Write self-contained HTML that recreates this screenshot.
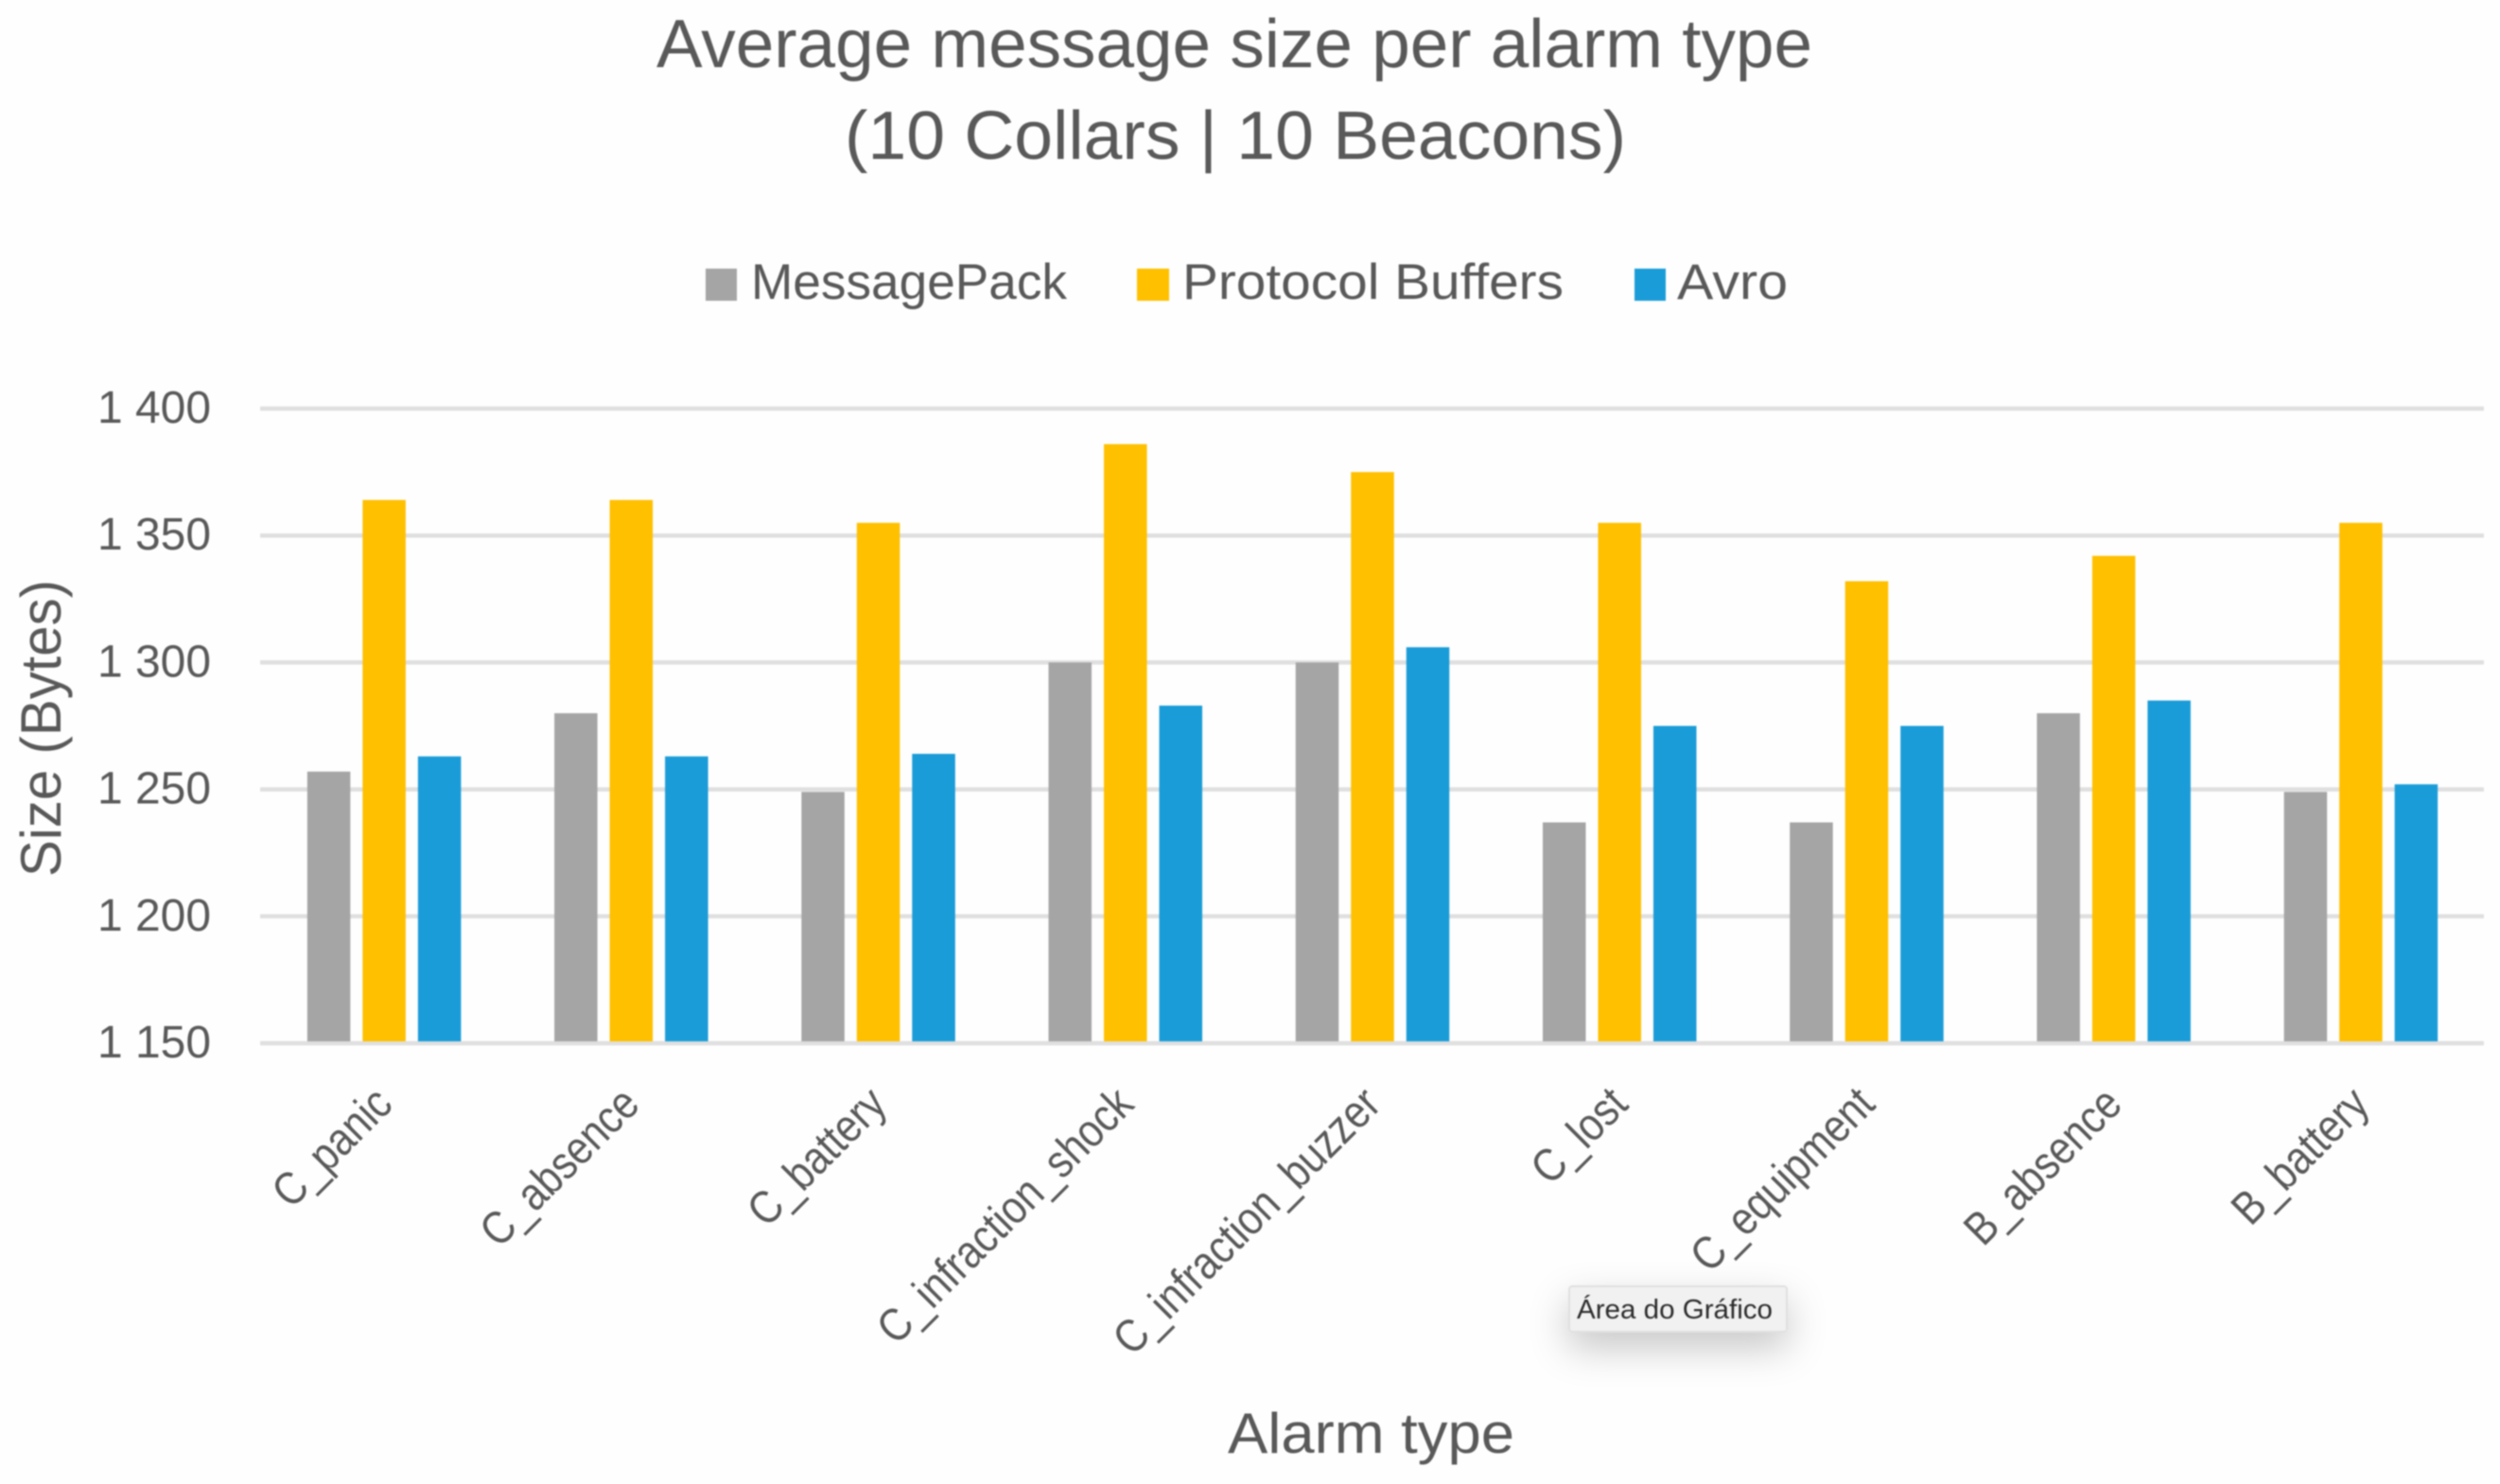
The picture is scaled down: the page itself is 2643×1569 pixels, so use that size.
<!DOCTYPE html>
<html lang="en">
<head>
<meta charset="utf-8">
<title>Average message size per alarm type</title>
<style>
html,body{margin:0;padding:0;background:#fefefe;width:2643px;height:1569px;overflow:hidden}
svg{display:block;font-family:"Liberation Sans",sans-serif;filter:blur(0.9px)}
text{fill:#595959}
</style>
</head>
<body>
<svg id="chart" xmlns="http://www.w3.org/2000/svg" width="2643" height="1569" viewBox="0 0 2643 1569">
  <defs>
    <filter id="tip-shadow" x="-40%" y="-80%" width="180%" height="320%">
      <feDropShadow dx="0" dy="16" stdDeviation="20" flood-color="#000" flood-opacity="0.22"/>
    </filter>
  </defs>
  <rect width="2643" height="1569" fill="#fefefe"/>
  <text x="694" y="71" font-size="72" textLength="1222" lengthAdjust="spacingAndGlyphs">Average message size per alarm type</text>
  <text x="893" y="168" font-size="72" textLength="826" lengthAdjust="spacingAndGlyphs">(10 Collars | 10 Beacons)</text>

  <g id="legend">
    <rect x="746" y="284" width="33" height="34" fill="#a5a5a5"/>
    <text x="794" y="316" font-size="53" textLength="334" lengthAdjust="spacingAndGlyphs">MessagePack</text>
    <rect x="1202" y="284" width="34" height="34" fill="#ffc000"/>
    <text x="1250" y="316" font-size="53" textLength="403" lengthAdjust="spacingAndGlyphs">Protocol Buffers</text>
    <rect x="1728" y="284" width="33" height="34" fill="#1a9cd8"/>
    <text x="1773" y="316" font-size="53" textLength="117" lengthAdjust="spacingAndGlyphs">Avro</text>
  </g>

  <g id="grid"></g>
  <g id="yticks"></g>
  <g id="bars"></g>
  <g id="xticks"></g>

  <text transform="translate(64,770) rotate(-90)" text-anchor="middle" font-size="60" textLength="314" lengthAdjust="spacingAndGlyphs">Size (Bytes)</text>
  <text x="1298" y="1536" font-size="60" textLength="303" lengthAdjust="spacingAndGlyphs">Alarm type</text>

  <g>
    <rect x="1659" y="1360" width="230" height="48" rx="3" fill="#f1f1f1" stroke="#e0e0e0" stroke-width="2" filter="url(#tip-shadow)"/>
    <text x="1667" y="1394" font-size="29" textLength="207" lengthAdjust="spacingAndGlyphs" style="fill:#2b2b2b">Área do Gráfico</text>
  </g>
</svg>
<script>
const categories = ["C_panic","C_absence","C_battery","C_infraction_shock","C_infraction_buzzer","C_lost","C_equipment","B_absence","B_battery"];
const messagePack = [1257,1280,1249,1300,1300,1237,1237,1280,1249];
const protocolBuffers = [1364,1364,1355,1386,1375,1355,1332,1342,1355];
const avro = [1263,1263,1264,1283,1306,1275,1275,1285,1252];
const yTicks = [1150,1200,1250,1300,1350,1400];

const NS = "http://www.w3.org/2000/svg";
const plotLeft = 275, plotRight = 2626, plotTop = 432, plotBottom = 1103;
const yMin = 1150, yMax = 1400;
const barW = 45.5, barStep = 58.5;
const yScale = v => plotBottom - (v - yMin) / (yMax - yMin) * (plotBottom - plotTop);
const groupCenter = i => plotLeft + 0.5 + (plotRight - plotLeft) / categories.length * (i + 0.5);
const fmtTick = v => String(v).replace(/^(\d)(\d{3})$/, "$1 $2");

function make(tag, attrs, parent) {
  const el = document.createElementNS(NS, tag);
  for (const k in attrs) el.setAttribute(k, attrs[k]);
  parent.appendChild(el);
  return el;
}

const gridG = document.getElementById("grid");
const ytG = document.getElementById("yticks");
yTicks.forEach(t => {
  const line = make("line", {x1: plotLeft, x2: plotRight, y1: yScale(t), y2: yScale(t), stroke: "#dfdfdf", "stroke-width": 4.5}, gridG);
  
  
  const label = make("text", {x: 223, y: yScale(t) + 15, "text-anchor": "end", "font-size": 48, textLength: 120, lengthAdjust: "spacingAndGlyphs"}, ytG);
  
  
  label.textContent = fmtTick(t);
});

const seriesList = [
  {values: messagePack, color: "#a5a5a5", offset: -1},
  {values: protocolBuffers, color: "#ffc000", offset: 0},
  {values: avro, color: "#1a9cd8", offset: 1}
];
const barsG = document.getElementById("bars");
seriesList.forEach(s => {
  s.values.forEach((v, i) => {
    const cx = groupCenter(i) + s.offset * barStep;
    const rect = make("rect", {x: cx - barW / 2, y: yScale(v), width: barW, height: plotBottom - 2 - yScale(v), fill: s.color}, barsG);
    
    
  });
});

const xtG = document.getElementById("xticks");
categories.forEach((c, i) => {
  const label = make("text", {
    transform: "translate(" + (groupCenter(i) + 11) + ",1170) rotate(-45) scale(0.86,1)",
    "text-anchor": "end", "font-size": 49
  }, xtG);
  
  
  label.textContent = c;
});
</script>
</body>
</html>
